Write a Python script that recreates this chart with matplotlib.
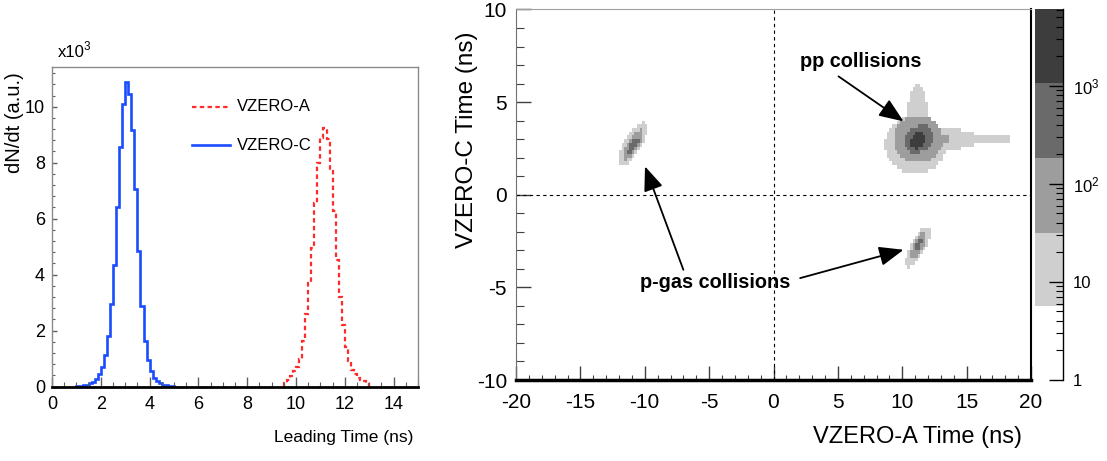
import numpy as np
import matplotlib
matplotlib.use('Agg')
import matplotlib.pyplot as plt
from matplotlib import font_manager
from matplotlib.colors import ListedColormap, BoundaryNorm
from matplotlib.ticker import MultipleLocator, LogLocator, NullFormatter, FixedLocator, FixedFormatter
from matplotlib.lines import Line2D

# ---------------- data ----------------
# Leading time histograms (units of 10^3 entries per 0.125 ns bin)
bin_width = 0.125
vzero_c_start = 1.0
vzero_c_counts = [0.01, 0.02, 0.04, 0.07, 0.11, 0.17, 0.28, 0.43,
                  0.69, 1.12, 1.80, 2.94, 4.33, 6.43, 8.57, 10.08,
                  10.90, 10.45, 9.16, 7.05, 4.83, 2.88, 1.62, 0.95,
                  0.54, 0.30, 0.18, 0.11, 0.07, 0.04, 0.02, 0.01]
vzero_a_start = 9.5
vzero_a_counts = [0.11, 0.24, 0.38, 0.54, 0.70, 1.00, 1.62, 2.58,
                  3.69, 4.95, 6.56, 7.99, 8.89, 9.24, 8.83, 7.69,
                  6.26, 4.53, 3.20, 2.20, 1.40, 0.90, 0.60, 0.45,
                  0.32, 0.25, 0.18, 0.10]
series_labels = ['VZERO-A', 'VZERO-C']

# 2D correlation: grey bands (colour-bar contour edges) and counts
band_edges = [5.7, 31.6, 185.0, 1070.0, 6100.0]
band_colors = ['#cfcfcf', '#9d9d9d', '#6a6a6a', '#3d3d3d']
band_counts = [15.0, 80.0, 450.0, 2500.0]
# regions of each band: (cx, cy, half-width, half-height, angle deg)
pp_bands = [
    [(11.05, 2.7, 2.4, 1.55, 0), (11.2, 3.6, 0.85, 2.4, 0), (13.5, 3.0, 2.6, 0.55, 0),
     (16.2, 3.0, 2.4, 0.22, 0)],
    [(11.2, 3.0, 1.9, 1.3, 0), (12.8, 2.95, 0.9, 0.3, 0)],
    [(11.3, 3.0, 1.15, 0.72, 15)],
    [(11.2, 2.95, 0.62, 0.42, 25)],
]
pgas_left_bands = [
    [(-10.95, 2.7, 1.55, 0.6, 47)],
    [(-10.9, 2.7, 1.05, 0.4, 47)],
    [(-10.9, 2.65, 0.6, 0.2, 47)],
    [],
]
pgas_right_bands = [
    [(11.25, -2.8, 1.4, 0.52, 49)],
    [(11.25, -2.75, 0.9, 0.35, 49)],
    [(11.25, -2.75, 0.48, 0.17, 49)],
    [],
]
cbar_ticks = [1, 10, 100, 1000]
cbar_ticklabels = ['1', '10', r'$10^{2}$', r'$10^{3}$']

# ---------------- fonts ----------------
names = {f.name for f in font_manager.fontManager.ttflist}
narrow = 'Liberation Sans Narrow' if 'Liberation Sans Narrow' in names else 'Liberation Sans'
regular = 'Liberation Sans'
plt.rcParams['font.family'] = [regular, 'DejaVu Sans']
plt.rcParams['mathtext.fontset'] = 'custom'
plt.rcParams['mathtext.rm'] = regular
plt.rcParams['mathtext.default'] = 'regular'
plt.rcParams['axes.unicode_minus'] = False

fig = plt.figure(figsize=(11.07, 4.61), dpi=100)
W, H = 1107.0, 461.0

def rect(l, t, r, b):
    return [l / W, 1 - b / H, (r - l) / W, (b - t) / H]

# ---------------- left panel ----------------
ax1 = fig.add_axes(rect(52, 66.7, 418, 386.5))
edges_c = vzero_c_start + bin_width * np.arange(len(vzero_c_counts) + 1)
edges_a = vzero_a_start + bin_width * np.arange(len(vzero_a_counts) + 1)
ax1.stairs(vzero_a_counts, edges_a, baseline=0, color='#ff2a2a', lw=1.6,
           linestyle=(0, (2.0, 1.5)))
ax1.stairs(vzero_c_counts, edges_c, baseline=0, color='#1a4dff', lw=1.9)
ax1.set_xlim(0, 15)
ax1.set_ylim(0, 11.43)
ax1.xaxis.set_major_locator(MultipleLocator(2))
ax1.xaxis.set_minor_locator(MultipleLocator(0.5))
ax1.yaxis.set_major_locator(MultipleLocator(2))
ax1.yaxis.set_minor_locator(MultipleLocator(0.4))
ax1.tick_params(axis='x', which='major', direction='in', length=7, width=1, color='#606060', pad=7)
ax1.tick_params(axis='x', which='minor', direction='in', length=3.6, width=0.8, color='#606060')
ax1.tick_params(axis='y', which='major', direction='in', length=3.3, width=1, color='#606060', pad=5)
ax1.tick_params(axis='y', which='minor', direction='in', length=2, width=0.8, color='#606060')
for lab in ax1.get_xticklabels() + ax1.get_yticklabels():
    lab.set_fontfamily(narrow)
    lab.set_fontsize(13)
for s in ['left', 'top', 'right']:
    ax1.spines[s].set_color('#8a8a8a')
    ax1.spines[s].set_linewidth(1.0)
ax1.spines['bottom'].set_color('black')
ax1.spines['bottom'].set_linewidth(2.0)

# legend (manual, in axes fraction)
ax1.add_line(Line2D([0.3825, 0.486], [0.874, 0.874], transform=ax1.transAxes,
                    color='#ff2a2a', lw=1.6, linestyle=(0, (2.0, 1.5))))
ax1.add_line(Line2D([0.3825, 0.486], [0.755, 0.755], transform=ax1.transAxes,
                    color='#1a4dff', lw=1.9))
ax1.text(0.5055, 0.874, series_labels[0], transform=ax1.transAxes, va='center', ha='left',
         fontsize=12, fontfamily=narrow)
ax1.text(0.5055, 0.755, series_labels[1], transform=ax1.transAxes, va='center', ha='left',
         fontsize=12, fontfamily=narrow)

fig.text(58 / W, 1 - 57 / H, 'x10', fontsize=12, fontfamily=narrow, va='baseline', ha='left')
fig.text(84 / W, 1 - 50 / H, '3', fontsize=8.5, fontfamily=narrow, va='baseline', ha='left')
fig.text(15 / W, 1 - 72 / H, 'dN/dt (a.u.)', rotation=90, fontsize=14.5, fontfamily=regular,
         va='top', ha='center')
fig.text(413 / W, 1 - 437 / H, 'Leading Time (ns)', fontsize=12.5, fontfamily=narrow,
         va='center', ha='right')

# ---------------- right panel ----------------
ax2 = fig.add_axes(rect(516, 9.5, 1031, 380))
xe = np.linspace(-20, 20, 201)
ye = np.linspace(-20, 20, 201)
xc = 0.5 * (xe[1:] + xe[:-1])
yc = 0.5 * (ye[1:] + ye[:-1])
XX, YY = np.meshgrid(xc, yc)
Z = np.zeros_like(XX)
for cluster in (pp_bands, pgas_left_bands, pgas_right_bands):
    for level, regions in enumerate(cluster):
        for (cx, cy, a, b, ang) in regions:
            t = np.deg2rad(ang)
            u = (XX - cx) * np.cos(t) + (YY - cy) * np.sin(t)
            v = -(XX - cx) * np.sin(t) + (YY - cy) * np.cos(t)
            inside = (u / a) ** 2 + (v / b) ** 2 <= 1.0
            Z = np.where(inside, np.maximum(Z, band_counts[level]), Z)
Zm = np.ma.masked_less_equal(Z, 0)
cmap = ListedColormap(band_colors)
cmap.set_under('white')
norm = BoundaryNorm(band_edges, cmap.N)
ax2.pcolormesh(xe, ye, Zm, cmap=cmap, norm=norm, shading='flat')
ax2.axvline(0, color='black', lw=0.8, linestyle=(0, (3, 3)))
ax2.axhline(0, color='black', lw=0.8, linestyle=(0, (3, 3)))
ax2.set_xlim(-20, 20)
ax2.set_ylim(-10, 10)
ax2.xaxis.set_major_locator(MultipleLocator(5))
ax2.xaxis.set_minor_locator(MultipleLocator(1))
ax2.yaxis.set_major_locator(MultipleLocator(5))
ax2.yaxis.set_minor_locator(MultipleLocator(1))
ax2.tick_params(axis='x', which='major', direction='in', length=10, width=1, color='#404040',
                pad=9, labelsize=15)
ax2.tick_params(axis='x', which='minor', direction='in', length=3.5, width=0.8, color='#404040')
ax2.tick_params(axis='y', which='major', direction='in', length=11, width=1, color='#404040',
                pad=6.5, labelsize=15)
ax2.tick_params(axis='y', which='minor', direction='in', length=5.5, width=0.8, color='#404040')
ax2.spines['left'].set_color('#707070')
ax2.spines['top'].set_color('#a0a0a0')
ax2.spines['right'].set_color('black')
ax2.spines['right'].set_linewidth(1.5)
ax2.spines['bottom'].set_color('black')
ax2.spines['bottom'].set_linewidth(2.5)

arrow_kw = dict(arrowstyle='-|>,head_length=0.75,head_width=0.3', color='black', lw=1.3,
                mutation_scale=20, shrinkA=0, shrinkB=0)
ax2.annotate('', xy=(10.1, 3.96), xytext=(5.05, 6.39), arrowprops=arrow_kw)
ax2.annotate('', xy=(-9.98, 1.53), xytext=(-7.0, -4.05), arrowprops=arrow_kw)
ax2.annotate('', xy=(10.1, -2.97), xytext=(2.07, -4.5), arrowprops=arrow_kw)
ax2.text(6.76, 7.19, 'pp collisions', fontsize=14.3, fontweight='bold', ha='center', va='center')
ax2.text(-4.56, -4.76, 'p-gas collisions', fontsize=14.3, fontweight='bold', ha='center', va='center')

fig.text(467 / W, 1 - 32 / H, 'VZERO-C Time (ns)', rotation=90, fontsize=17.5,
         va='top', ha='center')
fig.text(1022 / W, 1 - 437 / H, 'VZERO-A Time (ns)', fontsize=17, va='center', ha='right')

# ---------------- colour bar ----------------
cax = fig.add_axes(rect(1035, 9, 1063, 380))
cax.set_yscale('log')
cax.set_ylim(1, band_edges[-1])
cax.set_xlim(0, 1)
for lo, hi, col in zip(band_edges[:-1], band_edges[1:], band_colors):
    cax.axhspan(lo, hi, color=col, lw=0)
for s in ['left', 'top', 'bottom']:
    cax.spines[s].set_visible(False)
cax.spines['right'].set_color('black')
cax.spines['right'].set_linewidth(1.0)
cax.set_xticks([])
cax.yaxis.tick_right()
cax.yaxis.set_major_locator(FixedLocator(cbar_ticks))
cax.yaxis.set_major_formatter(FixedFormatter(cbar_ticklabels))
cax.yaxis.set_minor_locator(LogLocator(base=10, subs=np.arange(2, 10)))
cax.yaxis.set_minor_formatter(NullFormatter())
cax.tick_params(axis='y', which='major', direction='in', length=10, width=1, color='black',
                pad=7, labelsize=12)
cax.tick_params(axis='y', which='minor', direction='in', length=5, width=0.8, color='black')

fig.savefig('out.png', dpi=100)
